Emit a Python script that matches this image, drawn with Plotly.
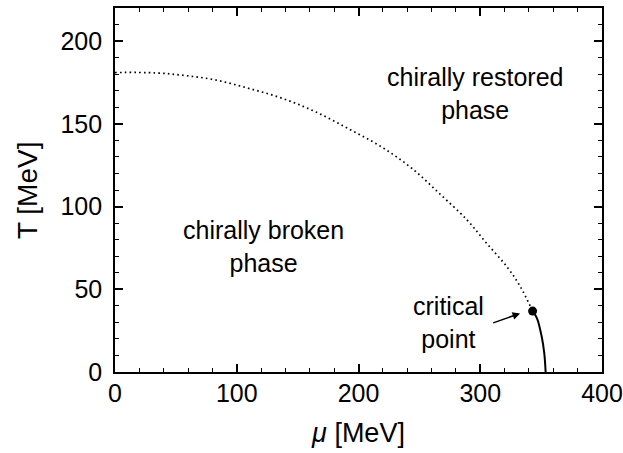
import plotly.graph_objects as go

# Crossover line (dotted): chemical potential mu [MeV] vs temperature T [MeV]
mu_crossover = [0, 33, 57.5, 82, 109.5, 137, 164, 192, 219, 244, 267, 289, 305, 322, 333, 343]
T_crossover = [181, 180.8, 179.2, 176.6, 171.5, 165.5, 157.5, 147, 136, 123, 107.5, 92, 78, 63.5, 51.5, 36.8]

# First-order transition line (solid), from the critical point down to T = 0
mu_first_order = [343, 346.6, 350.5, 352.6, 353.7]
T_first_order = [36.8, 32.4, 21.3, 11.3, 0]

# Critical point
mu_cp = [343]
T_cp = [36.8]

# Axis ticks
x_ticks = [0, 100, 200, 300, 400]
y_ticks = [0, 50, 100, 150, 200]

FONT = "Liberation Sans, Arial, sans-serif"

fig = go.Figure()

fig.add_trace(go.Scatter(
    x=mu_crossover, y=T_crossover, mode="lines",
    line=dict(color="black", width=1.7, dash="1.6px,3.2px", shape="spline"),
    hoverinfo="skip", showlegend=False,
))
fig.add_trace(go.Scatter(
    x=mu_first_order, y=T_first_order, mode="lines",
    line=dict(color="black", width=2, shape="spline"),
    hoverinfo="skip", showlegend=False,
))
fig.add_trace(go.Scatter(
    x=mu_cp, y=T_cp, mode="markers",
    marker=dict(color="black", size=9),
    hoverinfo="skip", showlegend=False,
))

label_font = dict(family=FONT, size=25, color="black")

fig.add_annotation(x=121.6, y=76, text="chirally broken<br>phase",
                   showarrow=False, font=label_font, align="center")
fig.add_annotation(x=296, y=168.5, text="chirally restored<br>phase",
                   showarrow=False, font=label_font, align="center")
fig.add_annotation(x=274.3, y=30.2, text="critical<br>point",
                   showarrow=False, font=label_font, align="center")
# Arrow pointing at the critical point
fig.add_annotation(x=332.7, y=35.4, ax=309.4, ay=29.4,
                   xref="x", yref="y", axref="x", ayref="y",
                   text="", showarrow=True, arrowhead=2, arrowsize=1.0,
                   arrowwidth=1.5, arrowcolor="black")

# Vertical axis title, placed in paper coordinates left of the tick labels
fig.add_annotation(x=-0.1805, y=0.5, xref="paper", yref="paper",
                   text="T [MeV]", textangle=-90, showarrow=False,
                   xanchor="center", yanchor="middle",
                   font=dict(family=FONT, size=28, color="black"))

axis_common = dict(
    showline=True, linecolor="black", linewidth=1.6, mirror="allticks",
    ticks="inside", ticklen=8, tickwidth=1.6, tickcolor="black",
    showgrid=False, zeroline=False,
    tickfont=dict(family=FONT, size=25, color="black"),
)

fig.update_xaxes(
    range=[0, 400], tickvals=x_ticks, ticklabelstandoff=-2,
    minor=dict(dtick=20, ticks="inside", ticklen=4.5, tickwidth=1.4,
               tickcolor="black", showgrid=False),
    title=dict(text="<i>μ</i> [MeV]", font=dict(family=FONT, size=27, color="black"),
               standoff=17),
    **axis_common,
)
fig.update_yaxes(
    range=[0, 220], tickvals=y_ticks, ticklabelstandoff=6,
    minor=dict(dtick=10, ticks="inside", ticklen=4.5, tickwidth=1.4,
               tickcolor="black", showgrid=False),
    **axis_common,
)

fig.update_layout(
    width=623, height=453,
    margin=dict(l=115, r=20.5, t=7.5, b=81, autoexpand=False),
    plot_bgcolor="white", paper_bgcolor="white",
    showlegend=False,
)

fig.write_html("out.html")
